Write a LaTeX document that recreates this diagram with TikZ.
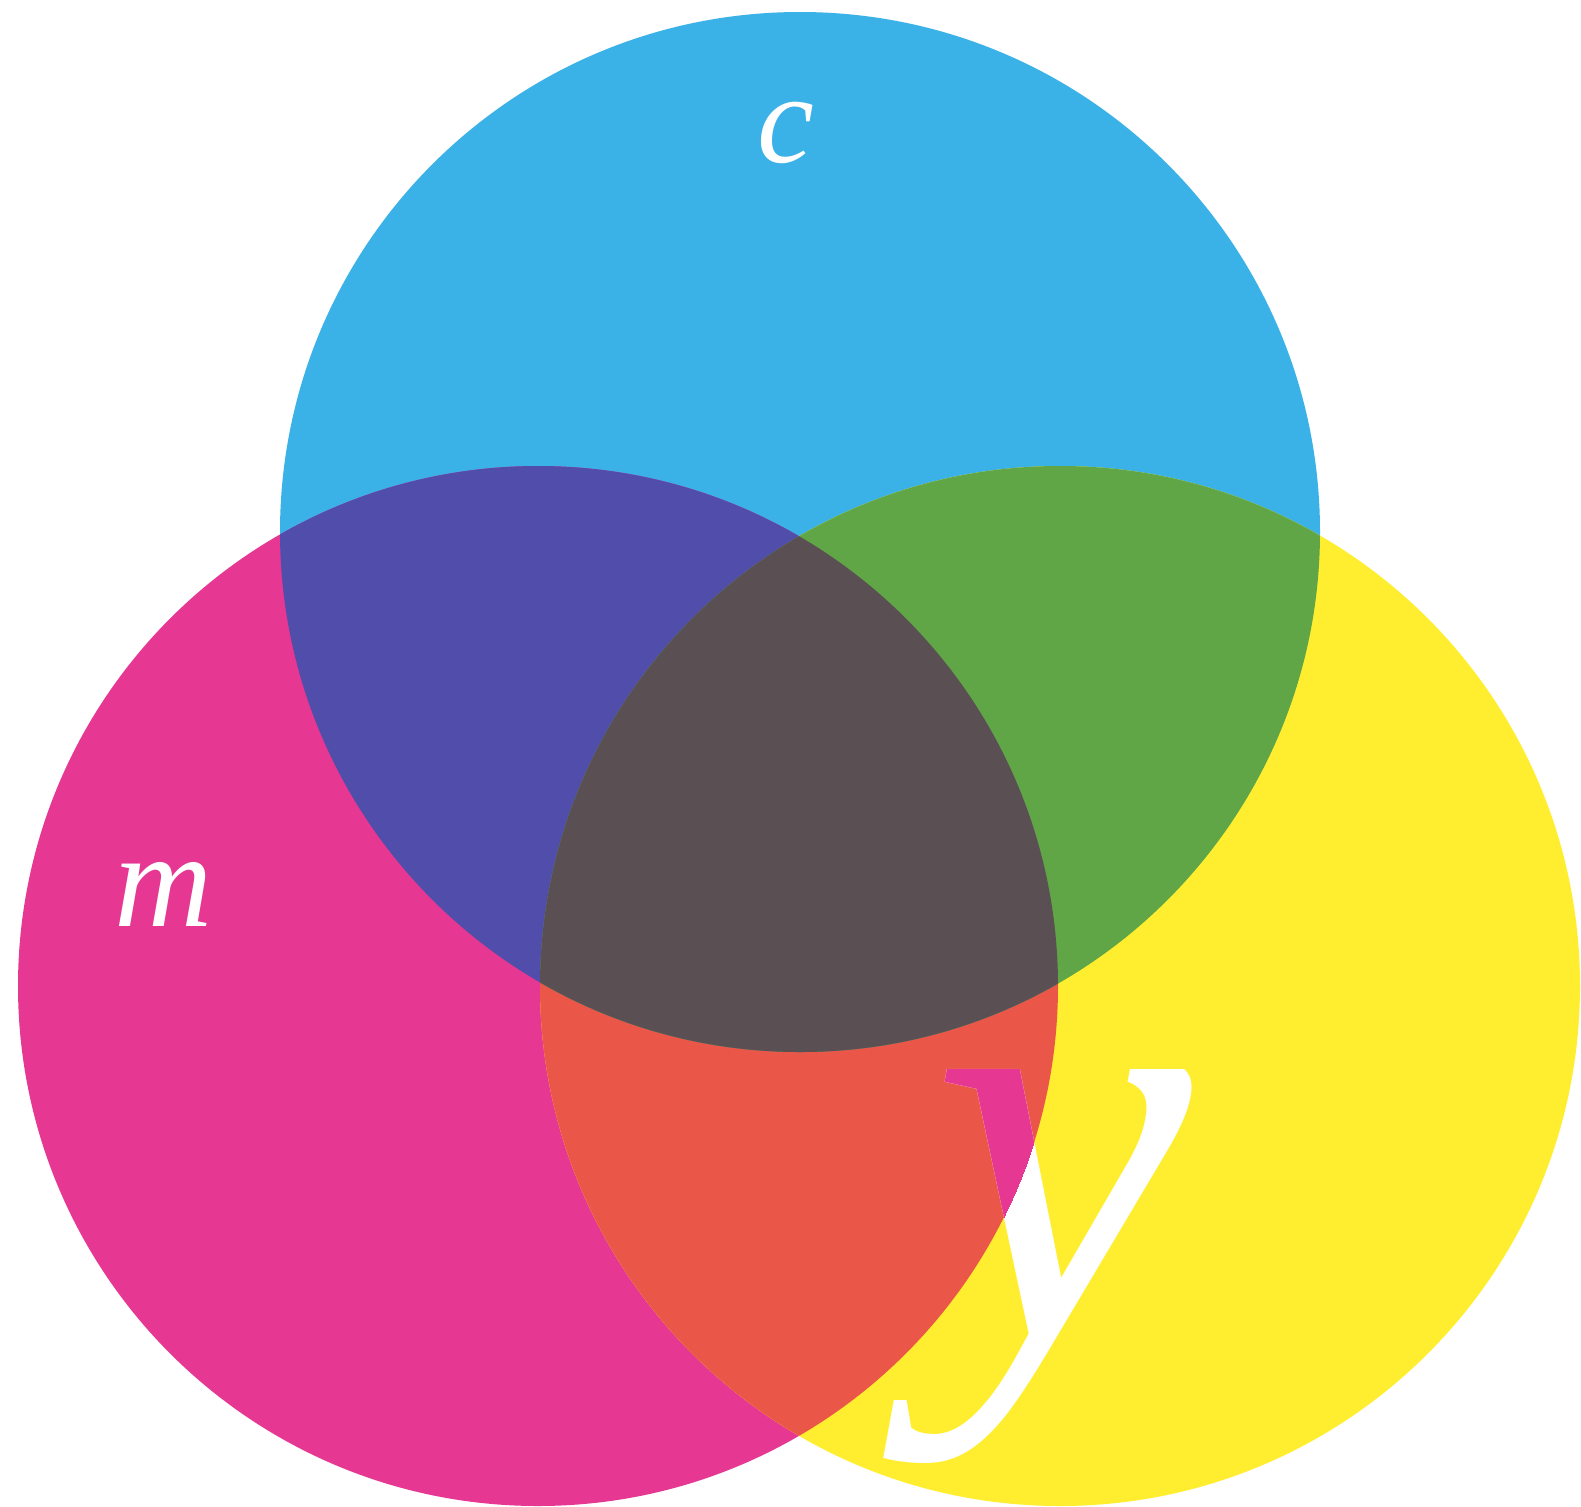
\documentclass[tikz,border=0pt]{standalone}
\usepackage{fontspec}
\newfontfamily\tms{Liberation Serif}
\definecolor{cyA}{RGB}{58,178,232}
\definecolor{maA}{RGB}{230,56,146}
\definecolor{yeA}{RGB}{255,238,48}
\definecolor{blA}{RGB}{80,78,170}
\definecolor{grA}{RGB}{96,166,70}
\definecolor{reA}{RGB}{234,86,72}
\definecolor{dkA}{RGB}{90,80,84}
\tikzset{
  lettr/.style={inner sep=0pt, text=white, font=\tms\itshape},
  bigy/.style={lettr, anchor=base, font=\tms\itshape\fontsize{292}{292}\selectfont},
}
\begin{document}
\begin{tikzpicture}[x=0.5pt,y=-0.5pt]
\useasboundingbox (0,0) rectangle (1581,1506);
\fill[white] (0,0) rectangle (1581,1506);
% single circles
\fill[cyA] (800,532) circle[radius=260pt];
\fill[maA] (538,986) circle[radius=260pt];
\fill[yeA] (1060,986) circle[radius=260pt];
% magenta + yellow
\begin{scope}
  \clip (538,986) circle[radius=260pt];
  \fill[reA] (1060,986) circle[radius=260pt];
\end{scope}
% cyan overlaps
\begin{scope}
  \clip (800,532) circle[radius=260pt];
  \fill[blA] (538,986) circle[radius=260pt];
  \fill[grA] (1060,986) circle[radius=260pt];
  \clip (538,986) circle[radius=260pt];
  \fill[dkA] (1060,986) circle[radius=260pt];
\end{scope}
% y knocked out of the yellow layer
\node[bigy] (ly) at (1062,1337) {y};
\begin{scope}
  \clip (538,986) circle[radius=260pt];
  \node[bigy, text=maA] (lym) at (1062,1337) {y};
\end{scope}
\node[lettr, font=\tms\itshape\fontsize{64}{64}\selectfont] (lc) at (786,133) {c};
\node[lettr, font=\tms\itshape\fontsize{68}{68}\selectfont] (lm) at (164,894) {m};
\end{tikzpicture}
\end{document}
